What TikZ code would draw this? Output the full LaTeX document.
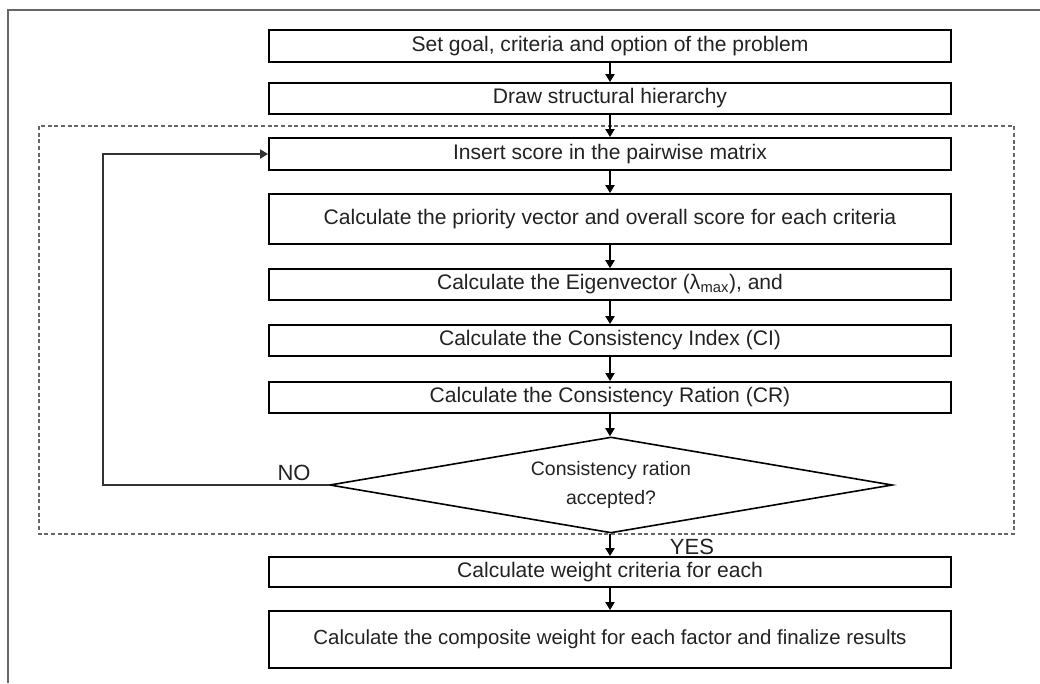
\documentclass[tikz,border=0pt]{standalone}
\usepackage{fontspec}
\setmainfont{Liberation Sans}
\usetikzlibrary{arrows.meta,shapes.geometric}
\definecolor{txt}{HTML}{222222}
\definecolor{frame}{HTML}{666666}
\begin{document}
\begin{tikzpicture}[x=0.75pt,y=-0.75pt,
  box/.style={draw=black,line width=1.5pt,minimum width=511.5pt,inner sep=0pt,
    font=\fontsize{15.8}{19}\selectfont,text=txt},
  arr/.style={-{Triangle[length=6pt,width=7pt]},line width=0.8pt,draw=black},
  lbl/.style={font=\fontsize{16.5}{19}\selectfont,text=txt,inner sep=1pt},
]
\useasboundingbox (0,0) rectangle (1040,683);
% outer frame (partly visible)
\draw[frame,line width=1.6pt] (8,683) -- (8,10) -- (1040,10);
% dashed group
\draw[frame,line width=0.8pt,dash pattern=on 3pt off 2pt] (39,126) rectangle (1014,534);

\node[box,minimum height=24pt]   (b1) at (610,46)    {Set goal, criteria and option of the problem};
\node[box,minimum height=23.25pt](b2) at (610,98.5)  {Draw structural hierarchy};
\node[box,minimum height=24pt]   (b3) at (610,154)   {Insert score in the pairwise matrix};
\node[box,minimum height=37.5pt] (b4) at (610,219)   {Calculate the priority vector and overall score for each criteria};
\node[box,minimum height=23pt]   (b5) at (610,284.5) {Calculate the Eigenvector (λ\textsubscript{max}), and};
\node[box,minimum height=23.25pt](b6) at (610,340.5) {Calculate the Consistency Index (CI)};
\node[box,minimum height=23.25pt](b7) at (610,397.5) {Calculate the Consistency Ration (CR)};
\node[diamond,draw=black,line width=1.2pt,aspect=5.86,inner sep=0pt,
      minimum width=422pt,minimum height=72pt,align=center,
      font=\fontsize{14.6}{21.5}\selectfont,text=txt] (d) at (611,485)
      {Consistency ration\\accepted?};
\node[box,minimum height=22.5pt] (b8) at (610,572)   {Calculate weight criteria for each};
\node[box,minimum height=42.75pt,font=\fontsize{15.3}{19}\selectfont](b9) at (610,639.5) {Calculate the composite weight for each factor and finalize results};

\draw[arr] (b1) -- (b2);
\draw[arr] (b2) -- (b3);
\draw[arr] (b3) -- (b4);
\draw[arr] (b4) -- (b5);
\draw[arr] (b5) -- (b6);
\draw[arr] (b6) -- (b7);
\draw[arr] (b7.south) -- (b7.south |- d.north);
\draw[arr] (d.south -| b8.north) -- (b8.north);
\draw[arr] (b8) -- (b9);

% NO loop
\coordinate (lb) at (103,485);
\coordinate (lt) at (103,154);
\draw[-{Triangle[length=6pt,width=7pt]},line width=0.8pt,draw=black!80]
  (d.west) -- (lb) -- (lt) -- (b3.west);

\node[lbl] (no) at (294,473) {NO};
\node[lbl] (yes) at (692,547) {YES};
\end{tikzpicture}
\end{document}
